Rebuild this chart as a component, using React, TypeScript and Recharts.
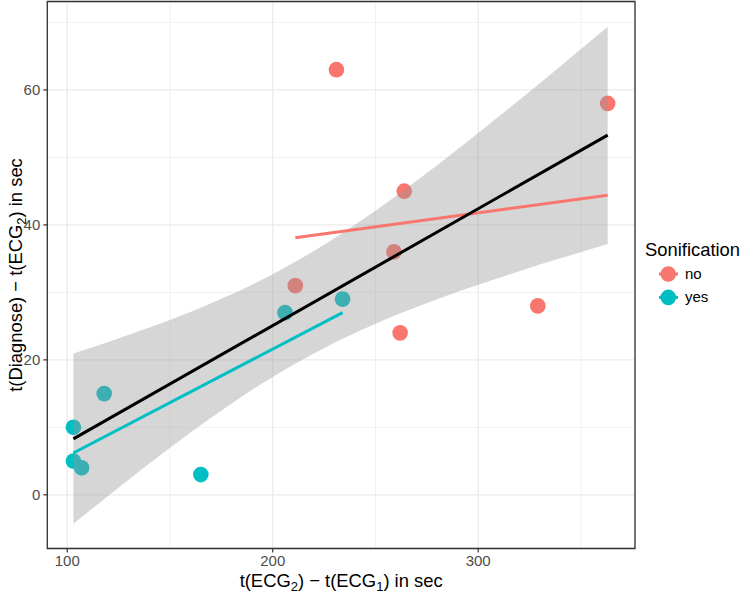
import React from "react";
import {
  ComposedChart,
  Scatter,
  Line,
  Area,
  XAxis,
  YAxis,
  CartesianGrid,
  ReferenceArea,
} from "recharts";

// Observations, split by sonification group
const noX = [211, 231, 259, 262, 264, 329, 363];
const noY = [31, 63, 36, 24, 45, 28, 58];
const yesX = [103, 103, 107, 118, 165, 206, 234];
const yesY = [10, 5, 4, 15, 3, 27, 29];

// Linear fits (endpoints)
const allFitX = [103, 363];
const allFitY = [8.3, 53.3];
const noFitX = [211, 363];
const noFitY = [38.1, 44.4];
const yesFitX = [103, 234];
const yesFitY = [6.2, 27.0];

// 95% confidence band of the overall fit
const bandX = [103, 120, 140, 160, 180, 200, 220, 240, 260, 280, 300, 320, 340, 363];
const bandLow = [-4.29, -0.12, 4.66, 9.25, 13.55, 17.48, 20.96, 23.99, 26.64, 28.99, 31.14, 33.14, 35.04, 37.15];
const bandHigh = [20.95, 22.64, 24.78, 27.11, 29.71, 32.7, 36.12, 40.01, 44.28, 48.83, 53.6, 58.5, 63.52, 69.35];

// Axis ticks
const xTicks = [100, 200, 300];
const xMinorTicks = [150, 250, 350];
const yTicks = [0, 20, 40, 60];
const yMinorTicks = [10, 30, 50, 70];
const xDomain = [90.3, 376.3];
const yDomain = [-7.95, 73.1];

const groups = ["no", "yes"];
const groupColors = ["#F8766D", "#00BFC4"];

const pts = (xs: number[], ys: number[]) => xs.map((x, i) => ({ x, y: ys[i] }));
const noData = pts(noX, noY);
const yesData = pts(yesX, yesY);
const allFit = pts(allFitX, allFitY);
const noFit = pts(noFitX, noFitY);
const yesFit = pts(yesFitX, yesFitY);
const bandData = bandX.map((x, i) => ({ x, band: [bandLow[i], bandHigh[i]] }));

const FONT = "'Liberation Sans', Arial, Helvetica, sans-serif";
const W = 744;
const H = 593;
const TICK_FONT = 15;

const dot = (color: string) => (props: any) => (
  <circle cx={props.cx} cy={props.cy} r={7.8} fill={color} />
);

const XTick = (props: any) => (
  <text
    x={props.x}
    y={props.y}
    dy="0.72em"
    textAnchor="middle"
    fontSize={TICK_FONT}
    fill="#4D4D4D"
    fontFamily={FONT}
  >
    {props.payload.value}
  </text>
);

const YTick = (props: any) => (
  <text
    x={props.x}
    y={props.y}
    dy="0.36em"
    textAnchor="end"
    fontSize={TICK_FONT}
    fill="#4D4D4D"
    fontFamily={FONT}
  >
    {props.payload.value}
  </text>
);

const XTitle = (props: any) => {
  const vb = props.viewBox || {};
  const cx = vb.x + vb.width / 2;
  const y = vb.y + 38;
  return (
    <text x={cx} y={y} textAnchor="middle" fontSize={18.4} fill="#000" fontFamily={FONT}>
      <tspan>t(ECG</tspan>
      <tspan dy={4} fontSize={13}>2</tspan>
      <tspan dy={-4}>) − t(ECG</tspan>
      <tspan dy={4} fontSize={13}>1</tspan>
      <tspan dy={-4}>) in sec</tspan>
    </text>
  );
};

const YTitle = (props: any) => {
  const vb = props.viewBox || {};
  const cy = vb.y + vb.height / 2;
  const x = 21.5;
  return (
    <text
      x={x}
      y={cy}
      textAnchor="middle"
      fontSize={18.4}
      fill="#000"
      fontFamily={FONT}
      transform={`rotate(-90, ${x}, ${cy})`}
    >
      <tspan>t(Diagnose) − t(ECG</tspan>
      <tspan dy={4} fontSize={13}>2</tspan>
      <tspan dy={-4}>) in sec</tspan>
    </text>
  );
};

export default function App() {
  return (
    <div style={{ position: "absolute", left: 0, top: 0, width: W, height: H, background: "#fff" }}>
      <ComposedChart
        width={W}
        height={H}
        margin={{ top: 1.5, right: 109, bottom: 0, left: 0 }}
      >
        <XAxis
          dataKey="x"
          type="number"
          domain={xDomain}
          ticks={xTicks}
          interval={0}
          allowDataOverflow
          height={44.5}
          tick={<XTick />}
          tickSize={4}
          tickMargin={3}
          axisLine={false}
          tickLine={{ stroke: "#333333", strokeWidth: 1.2 }}
          label={<XTitle />}
        />
        <YAxis
          dataKey="y"
          type="number"
          domain={yDomain}
          ticks={yTicks}
          interval={0}
          allowDataOverflow
          width={47.3}
          tick={<YTick />}
          tickSize={4}
          tickMargin={3}
          axisLine={false}
          tickLine={{ stroke: "#333333", strokeWidth: 1.2 }}
          label={<YTitle />}
        />
        <XAxis xAxisId="minor" dataKey="x" type="number" domain={xDomain} ticks={xMinorTicks} allowDataOverflow hide />
        <YAxis yAxisId="minor" dataKey="y" type="number" domain={yDomain} ticks={yMinorTicks} allowDataOverflow hide />
        <CartesianGrid xAxisId="minor" yAxisId="minor" stroke="#EBEBEB" strokeWidth={0.7} />
        <CartesianGrid stroke="#EBEBEB" strokeWidth={1.3} />

        <Scatter data={noData} shape={dot(groupColors[0])} isAnimationActive={false} zIndex={50} />
        <Scatter data={yesData} shape={dot(groupColors[1])} isAnimationActive={false} zIndex={50} />

        <Area
          data={bandData}
          dataKey="band"
          type="monotone"
          fill="#999999"
          fillOpacity={0.4}
          stroke="none"
          isAnimationActive={false}
          activeDot={false}
          zIndex={100}
        />

        <Line data={noFit} dataKey="y" stroke={groupColors[0]} strokeWidth={3} dot={false} activeDot={false} isAnimationActive={false} />
        <Line data={yesFit} dataKey="y" stroke={groupColors[1]} strokeWidth={3} dot={false} activeDot={false} isAnimationActive={false} />
        <Line data={allFit} dataKey="y" stroke="#000000" strokeWidth={3} dot={false} activeDot={false} isAnimationActive={false} />

        <ReferenceArea
          x1={xDomain[0]}
          x2={xDomain[1]}
          y1={yDomain[0]}
          y2={yDomain[1]}
          fill="none"
          stroke="#333333"
          strokeWidth={1.3}
          ifOverflow="visible"
        />
      </ComposedChart>

      <svg
        width={W - 640}
        height={80}
        style={{ position: "absolute", left: 640, top: 234 }}
        fontFamily={FONT}
      >
        <text x={5} y={22} fontSize={18.4} fill="#000">Sonification</text>
        {groups.map((g, i) => (
          <g key={g}>
            <line x1={19} x2={38} y1={40 + i * 23.4} y2={40 + i * 23.4} stroke={groupColors[i]} strokeWidth={3} />
            <circle cx={28.3} cy={40 + i * 23.4} r={7.8} fill={groupColors[i]} />
            <text x={45} y={45 + i * 23.4} fontSize={15} fill="#000">{g}</text>
          </g>
        ))}
      </svg>
    </div>
  );
}
